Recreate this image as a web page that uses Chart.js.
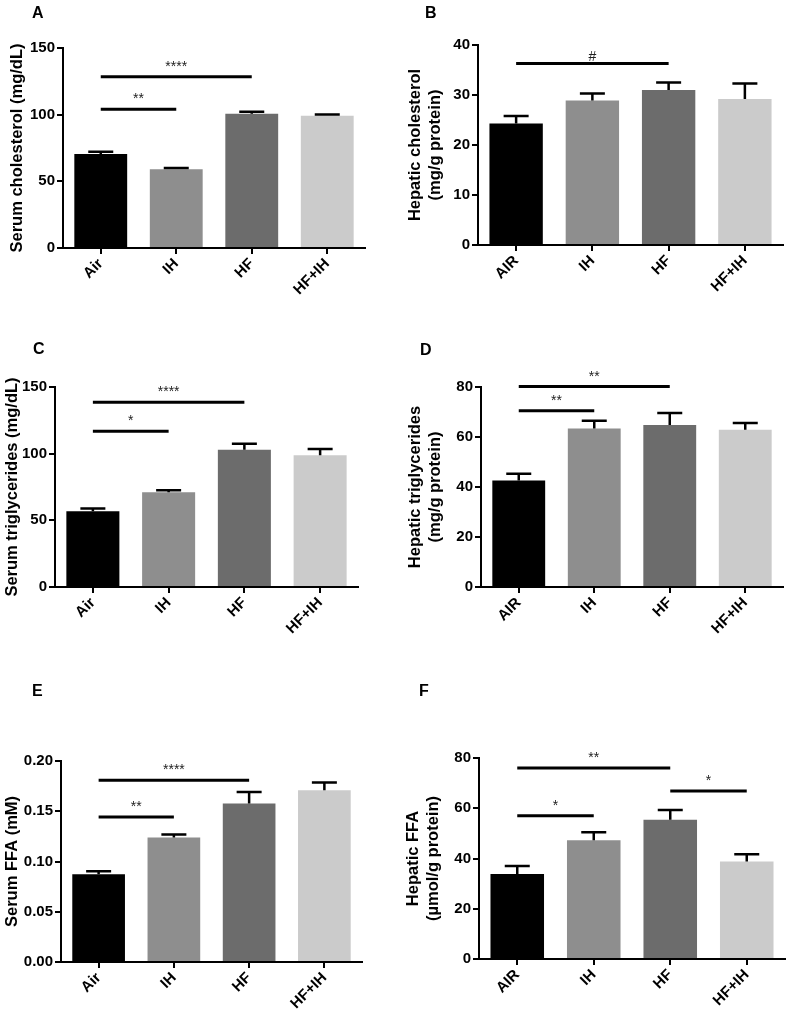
<!DOCTYPE html>
<html>
<head>
<meta charset="utf-8">
<script src="https://cdn.jsdelivr.net/npm/chart.js@4.4.1/dist/chart.umd.min.js"></script>
<style>
    body { margin: 0; background: #fff; }
    #wrap { position: relative; width: 787px; height: 1015px; overflow: hidden; }
    canvas { position: absolute; }
    .tag { position: absolute; font: bold 16px "Liberation Sans", Arial, sans-serif; line-height: 16px; color: #000; }
</style>
</head>
<body>
<div id="wrap">
    <canvas id="chartA" width="393" height="300" style="left:0;top:0"></canvas>
    <canvas id="chartB" width="394" height="300" style="left:393px;top:0"></canvas>
    <canvas id="chartC" width="393" height="320" style="left:0;top:330px"></canvas>
    <canvas id="chartD" width="394" height="320" style="left:393px;top:330px"></canvas>
    <canvas id="chartE" width="393" height="345" style="left:0;top:670px"></canvas>
    <canvas id="chartF" width="394" height="345" style="left:393px;top:670px"></canvas>
    <div class="tag" style="left:32px;top:5px">A</div>
    <div class="tag" style="left:425px;top:5px">B</div>
    <div class="tag" style="left:33px;top:341px">C</div>
    <div class="tag" style="left:420px;top:342px">D</div>
    <div class="tag" style="left:32px;top:683px">E</div>
    <div class="tag" style="left:419px;top:683px">F</div>
</div>
<script>
"use strict";

// group names
var serumGroups = ["Air", "IH", "HF", "HF+IH"];
var hepaticGroups = ["AIR", "IH", "HF", "HF+IH"];
var barColors = ["#000000", "#8e8e8e", "#6c6c6c", "#cbcbcb"];

// A - serum cholesterol (mg/dL)
var serumCholMean = [70.5, 59.0, 100.7, 99.1];
var serumCholSem = [1.7, 1.0, 1.5, 1.1];
var serumCholSig = [[0, 2, 128.5, "****"], [0, 1, 104, "**"]];

// B - hepatic cholesterol (mg/g protein)
var hepCholMean = [24.3, 28.9, 31.0, 29.2];
var hepCholSem = [1.5, 1.4, 1.5, 3.1];
var hepCholSig = [[0, 2, 36.3, "#"]];

// C - serum triglycerides (mg/dL)
var serumTgMean = [56.8, 71.0, 103.0, 98.8];
var serumTgSem = [2.0, 1.5, 4.5, 4.7];
var serumTgSig = [[0, 2, 138.5, "****"], [0, 1, 116.8, "*"]];

// D - hepatic triglycerides (mg/g protein)
var hepTgMean = [42.6, 63.4, 64.8, 62.9];
var hepTgSem = [2.7, 3.1, 4.8, 2.7];
var hepTgSig = [[0, 2, 80.2, "**"], [0, 1, 70.5, "**"]];

// E - serum FFA (mM)
var serumFfaMean = [0.0874, 0.1239, 0.1577, 0.1709];
var serumFfaSem = [0.003, 0.003, 0.0115, 0.0076];
var serumFfaSig = [[0, 2, 0.1808, "****"], [0, 1, 0.1444, "**"]];

// F - hepatic FFA (umol/g protein)
var hepFfaMean = [33.8, 47.3, 55.4, 38.8];
var hepFfaSem = [3.2, 3.1, 3.9, 2.9];
var hepFfaSig = [[0, 2, 76, "**"], [0, 1, 57, "*"], [2, 3, 66.9, "*"]];

var FONT = "'Liberation Sans', Arial, sans-serif";

// draws the upper SEM whisker and the significance bars
var extrasPlugin = {
    id: "extras",
    afterDatasetsDraw: function (chart) {
        var ctx = chart.ctx;
        var x = chart.scales.x, y = chart.scales.y;
        var o = chart.options.plugins.extras;
        ctx.save();
        ctx.strokeStyle = "#000";
        ctx.lineCap = "butt";
        ctx.lineWidth = 2.5;
        for (var i = 0; i < o.mean.length; i++) {
            var px = x.getPixelForValue(i);
            var top = y.getPixelForValue(o.mean[i] + o.sem[i]);
            ctx.beginPath();
            ctx.moveTo(px, y.getPixelForValue(o.mean[i]));
            ctx.lineTo(px, top);
            ctx.moveTo(px - 12.5, top);
            ctx.lineTo(px + 12.5, top);
            ctx.stroke();
        }
        ctx.lineWidth = 3;
        ctx.fillStyle = "#222";
        ctx.font = "14px " + FONT;
        ctx.textAlign = "center";
        ctx.textBaseline = "alphabetic";
        o.sig.forEach(function (s) {
            var x1 = x.getPixelForValue(s[0]), x2 = x.getPixelForValue(s[1]);
            var py = y.getPixelForValue(s[2]);
            ctx.beginPath();
            ctx.moveTo(x1, py);
            ctx.lineTo(x2, py);
            ctx.stroke();
            ctx.fillText(s[3], (x1 + x2) / 2, py - (s[3] == "#" ? 3 : 6));
        });
        ctx.restore();
    }
};

function drawPanel(id, groups, mean, sem, sig, yMax, yStep, yTitle, box, decimals) {
    var canvas = document.getElementById(id);
    var W = canvas.width, H = canvas.height;
    return new Chart(canvas, {
        type: "bar",
        data: {
            labels: groups,
            datasets: [{
                data: mean,
                backgroundColor: barColors,
                borderWidth: 0,
                barPercentage: 0.7,
                categoryPercentage: 1
            }]
        },
        options: {
            responsive: false,
            animation: false,
            devicePixelRatio: 1,
            layout: { padding: { left: 0, top: box.top, right: W - box.right, bottom: 0 } },
            plugins: {
                legend: { display: false },
                tooltip: { enabled: false },
                extras: { mean: mean, sem: sem, sig: sig }
            },
            scales: {
                x: {
                    grid: { offset: false, drawOnChartArea: false, drawTicks: true, tickLength: 6, color: "#000", lineWidth: 2 },
                    border: { display: true, color: "#000", width: 2 },
                    ticks: { color: "#000", font: { family: FONT, size: 15, weight: "bold" }, minRotation: 45, maxRotation: 45, autoSkip: false, padding: 1 },
                    afterFit: function (s) { s.height = H - box.bottom; }
                },
                y: {
                    min: 0,
                    max: yMax,
                    grid: { drawOnChartArea: false, drawTicks: true, tickLength: 6, color: "#000", lineWidth: 2 },
                    border: { display: true, color: "#000", width: 2 },
                    ticks: {
                        stepSize: yStep,
                        color: "#000",
                        padding: 2,
                        font: { family: FONT, size: 15, weight: "bold" },
                        callback: function (v) { return v.toFixed(decimals); }
                    },
                    title: {
                        display: true,
                        text: yTitle,
                        color: "#000",
                        font: { family: FONT, size: 16.5, weight: "bold" },
                        padding: { top: box.titlePad, bottom: 0 }
                    },
                    afterFit: function (s) { s.width = box.left; }
                }
            }
        },
        plugins: [extrasPlugin]
    });
}

drawPanel("chartA", serumGroups, serumCholMean, serumCholSem, serumCholSig, 150, 50,
    "Serum cholesterol (mg/dL)", { left: 63, right: 365, top: 48, bottom: 248, titlePad: 7.5 }, 0);
drawPanel("chartB", hepaticGroups, hepCholMean, hepCholSem, hepCholSig, 40, 10,
    ["Hepatic cholesterol", "(mg/g protein)"], { left: 85, right: 390, top: 45, bottom: 245, titlePad: 12.5 }, 0);
drawPanel("chartC", serumGroups, serumTgMean, serumTgSem, serumTgSig, 150, 50,
    "Serum triglycerides (mg/dL)", { left: 55, right: 358, top: 57, bottom: 257, titlePad: 2.5 }, 0);
drawPanel("chartD", hepaticGroups, hepTgMean, hepTgSem, hepTgSig, 80, 20,
    ["Hepatic triglycerides", "(mg/g protein)"], { left: 88, right: 390, top: 57, bottom: 257, titlePad: 12.5 }, 0);
drawPanel("chartE", serumGroups, serumFfaMean, serumFfaSem, serumFfaSig, 0.2, 0.05,
    "Serum FFA (mM)", { left: 61, right: 362, top: 91, bottom: 292, titlePad: 2.5 }, 2);
drawPanel("chartF", hepaticGroups, hepFfaMean, hepFfaSem, hepFfaSig, 80, 20,
    ["Hepatic FFA", "(\u00b5mol/g protein)"], { left: 86, right: 392, top: 88, bottom: 289, titlePad: 11 }, 0);
</script>
</body>
</html>
